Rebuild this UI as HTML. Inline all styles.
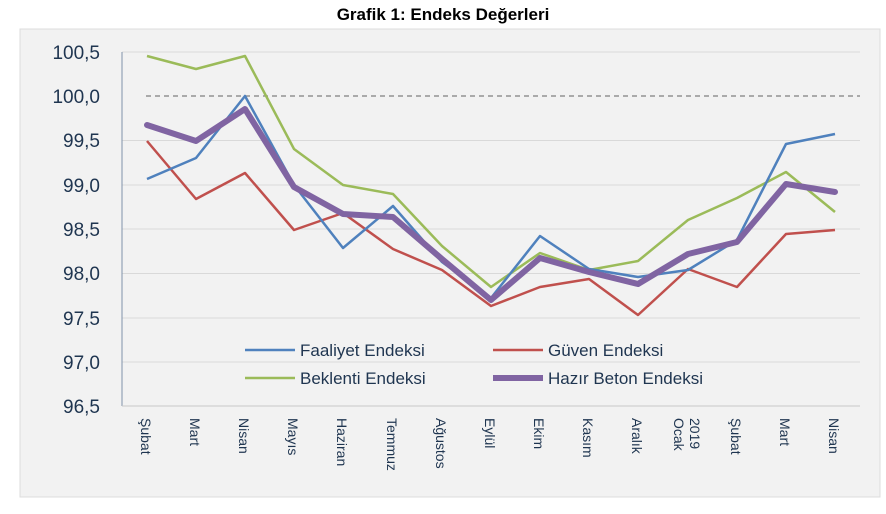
<!DOCTYPE html>
<html><head><meta charset="utf-8"><style>
body{margin:0;background:#fff;width:886px;height:509px;overflow:hidden;font-family:"Liberation Sans",sans-serif}
</style></head><body>
<svg width="886" height="509" xmlns="http://www.w3.org/2000/svg" font-family="Liberation Sans, sans-serif">
<text x="443" y="20" text-anchor="middle" font-weight="bold" font-size="17" fill="#000">Grafik 1: Endeks Değerleri</text>
<rect x="20" y="29" width="860" height="468" fill="#f2f2f2" stroke="#dcdcdc"/>
<g stroke="#d9d9d9" stroke-width="1">
<line x1="122" x2="860" y1="52" y2="52"/><line x1="122" x2="860" y1="140.5" y2="140.5"/><line x1="122" x2="860" y1="185" y2="185"/><line x1="122" x2="860" y1="229" y2="229"/><line x1="122" x2="860" y1="273.5" y2="273.5"/><line x1="122" x2="860" y1="318" y2="318"/><line x1="122" x2="860" y1="362" y2="362"/>
</g>
<line x1="146" x2="860" y1="96" y2="96" stroke="#808080" stroke-dasharray="5,4" stroke-width="1.3"/>
<line x1="122" x2="122" y1="52" y2="406" stroke="#8093aa"/>
<line x1="122" x2="860" y1="406" y2="406" stroke="#c8c8c8"/>
<g font-size="19" fill="#1f3550" text-anchor="end">
<text x="100" y="59">100,5</text><text x="100" y="103">100,0</text><text x="100" y="147">99,5</text><text x="100" y="192">99,0</text><text x="100" y="236">98,5</text><text x="100" y="280">98,0</text><text x="100" y="325">97,5</text><text x="100" y="369">97,0</text><text x="100" y="413">96,5</text>
</g>
<g font-size="14" fill="#1f3550">
<text transform="translate(141,418) rotate(90)">Şubat</text>
<text transform="translate(190,418) rotate(90)">Mart</text>
<text transform="translate(239,418) rotate(90)">Nisan</text>
<text transform="translate(288,418) rotate(90)">Mayıs</text>
<text transform="translate(337,418) rotate(90)">Haziran</text>
<text transform="translate(387,418) rotate(90)">Temmuz</text>
<text transform="translate(436,418) rotate(90)">Ağustos</text>
<text transform="translate(485,418) rotate(90)">Eylül</text>
<text transform="translate(534,418) rotate(90)">Ekim</text>
<text transform="translate(583,418) rotate(90)">Kasım</text>
<text transform="translate(632,418) rotate(90)">Aralık</text>
<text transform="translate(674,418) rotate(90)">Ocak</text>
<text transform="translate(690,418) rotate(90)">2019</text>
<text transform="translate(731,418) rotate(90)">Şubat</text>
<text transform="translate(780,418) rotate(90)">Mart</text>
<text transform="translate(829,418) rotate(90)">Nisan</text>
</g>
<g fill="none" stroke-linejoin="round">
<polyline stroke="#9bbb59" stroke-width="2.5" points="147,56 196,69 245,56 294,149 343,185 393,194 442,246 491,287 540,253 589,270 638,261 688,220 737,198 786,172 835,212"/>
<polyline stroke="#c0504d" stroke-width="2.5" points="147,141 196,199 245,173 294,230 343,213 393,249 442,270 491,306 540,287 589,279 638,315 688,269 737,287 786,234 835,230"/>
<polyline stroke="#4f81bd" stroke-width="2.5" points="147,179 196,158 245,96 294,185 343,248 393,206 442,262 491,298 540,236 589,269 638,277 688,270 737,240 786,144 835,134"/>
<polyline stroke="#8064a2" stroke-width="6" stroke-linecap="round" points="147,125 196,141 245,109 294,187 343,214 393,217 442,259 491,300 540,258 589,272 638,284 688,254 737,242 786,184 835,192"/>
</g>
<g font-size="17" fill="#1f3550">
<line x1="245" x2="295" y1="350" y2="350" stroke="#4f81bd" stroke-width="2.5"/><text x="300" y="356">Faaliyet Endeksi</text>
<line x1="493" x2="543" y1="350" y2="350" stroke="#c0504d" stroke-width="2.5"/><text x="548" y="356">Güven Endeksi</text>
<line x1="245" x2="295" y1="378" y2="378" stroke="#9bbb59" stroke-width="2.5"/><text x="300" y="384">Beklenti Endeksi</text>
<line x1="493" x2="543" y1="378" y2="378" stroke="#8064a2" stroke-width="6"/><text x="548" y="384">Hazır Beton Endeksi</text>
</g>
</svg>
</body></html>
